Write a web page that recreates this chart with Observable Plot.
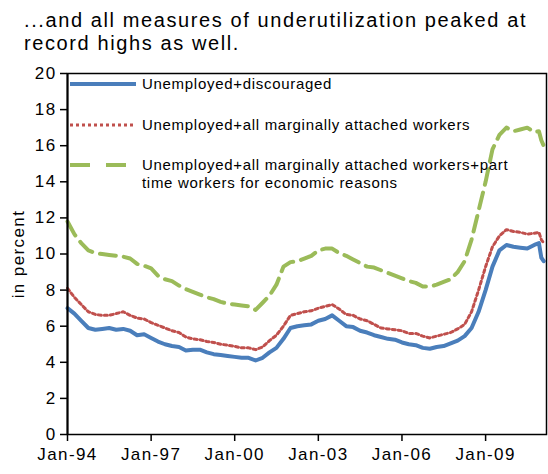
<!DOCTYPE html>
<html><head><meta charset="utf-8">
<script src="https://cdn.jsdelivr.net/npm/d3@7"></script>
<script src="https://cdn.jsdelivr.net/npm/@observablehq/plot@0.6"></script>
<style>
body{margin:0;background:#fff;font-family:"Liberation Sans",Arial,sans-serif;}
#wrap{position:relative;width:548px;height:474px;overflow:hidden;background:#fff}
#title{position:absolute;left:24px;top:9px;font-size:20px;line-height:23px;letter-spacing:1.6px;color:#000;white-space:nowrap}
#chart{position:absolute;left:0;top:60px}
.leg{position:absolute;font-size:15px;line-height:18px;letter-spacing:0.7px;color:#000;white-space:nowrap}
.legsw{position:absolute}
</style>
</head><body>
<div id="wrap">
  <div id="title">...and all measures of underutilization peaked at<br>record highs as well.</div>
  <div id="chart"></div>
</div>
<script>
const dates = [
"1994-01","1994-04","1994-07","1994-10","1995-01","1995-04","1995-07","1995-10",
"1996-01","1996-04","1996-07","1996-10","1997-01","1997-04","1997-07","1997-10",
"1998-01","1998-04","1998-07","1998-10","1999-01","1999-04","1999-07","1999-10",
"2000-01","2000-04","2000-07","2000-10","2001-01","2001-04","2001-07","2001-10",
"2002-01","2002-04","2002-07","2002-10","2003-01","2003-04","2003-07","2003-10",
"2004-01","2004-04","2004-07","2004-10","2005-01","2005-04","2005-07","2005-10",
"2006-01","2006-04","2006-07","2006-10","2007-01","2007-04","2007-07","2007-10",
"2008-01","2008-04","2008-07","2008-10","2009-01","2009-04","2009-07","2009-10",
"2010-01","2010-04","2010-07","2010-10","2010-12","2011-01","2011-02"];

const unemployedDiscouraged = [
7.0,6.7,6.3,5.9, 5.8,5.85,5.9,5.8, 5.85,5.75,5.5,5.55, 5.35,5.15,5.0,4.9,
4.85,4.65,4.7,4.7, 4.55,4.45,4.4,4.35, 4.3,4.25,4.25,4.1, 4.25,4.55,4.8,5.3,
5.9,6.0,6.05,6.1, 6.3,6.4,6.6,6.3, 6.0,5.95,5.75,5.65, 5.5,5.4,5.3,5.25,
5.1,5.0,4.95,4.8, 4.75,4.85,4.9,5.05, 5.2,5.45,5.9,6.8, 8.0,9.3,10.2,10.5,
10.4,10.35,10.3,10.5, 10.6,9.8,9.6];

const marginallyAttached = [
8.1,7.6,7.2,6.8, 6.65,6.6,6.6,6.7, 6.8,6.6,6.45,6.4, 6.2,6.05,5.9,5.75,
5.65,5.4,5.3,5.25, 5.15,5.1,5.0,4.95, 4.88,4.8,4.8,4.7, 4.85,5.2,5.5,6.0,
6.6,6.7,6.8,6.85, 7.0,7.1,7.2,6.95, 6.65,6.6,6.4,6.3, 6.1,5.9,5.85,5.8,
5.75,5.6,5.6,5.45, 5.35,5.45,5.55,5.65, 5.85,6.1,6.8,8.0, 9.3,10.4,11.0,11.35,
11.25,11.2,11.1,11.15, 11.2,10.8,10.6];

const partTimeEconomic = [
11.8,11.1,10.6,10.2, 10.05,10.0,9.95,9.9, 9.85,9.75,9.45,9.35, 9.2,8.8,8.6,8.5,
8.25,8.05,7.9,7.75, 7.6,7.5,7.35,7.25, 7.2,7.15,7.1,6.9, 7.3,7.7,8.3,9.3,
9.55,9.6,9.75,9.9, 10.2,10.3,10.3,10.05, 9.9,9.7,9.5,9.3, 9.25,9.1,8.95,8.8,
8.65,8.5,8.4,8.2, 8.2,8.3,8.45,8.6, 9.0,9.6,10.8,12.4, 14.0,15.8,16.6,17.0,
16.8,16.9,17.0,16.75, 16.8,16.3,16.0];

const seriesNames = [
  "Unemployed+discouraged",
  "Unemployed+all marginally attached workers",
  "Unemployed+all marginally attached workers+part time workers for economic reasons"
];
const xTickDates = ["1994-01-01","1997-01-01","2000-01-01","2003-01-01","2006-01-01","2009-01-01"];
const xTickLabels = ["Jan-94","Jan-97","Jan-00","Jan-03","Jan-06","Jan-09"];
const yTicks = [0,2,4,6,8,10,12,14,16,18,20];

const parse = d3.utcParse("%Y-%m");
const table = dates.map((d,i)=>({
  date: parse(d),
  a: unemployedDiscouraged[i],
  b: marginallyAttached[i],
  c: partTimeEconomic[i]
}));
const tickDates = xTickDates.map(s=>new Date(s+"T00:00:00Z"));

const styles = [
  {stroke:"#4A7EBB", strokeWidth:4, dash:null},
  {stroke:"#C0504D", strokeWidth:3, dash:"3,3"},
  {stroke:"#9BBB59", strokeWidth:4, dash:"16,8"}
];

const plot = Plot.plot({
  width:548, height:414,
  marginTop:13, marginBottom:40, marginLeft:67, marginRight:2,
  style:{fontFamily:"'Liberation Sans', Arial, sans-serif", fontSize:"17px", letterSpacing:"1.4px", color:"#000", background:"#fff", overflow:"visible"},
  x:{type:"utc", domain:[new Date("1994-01-01T00:00:00Z"), new Date("2011-03-10T00:00:00Z")]},
  y:{domain:[0,20]},
  marks:[
    Plot.axisX({ticks:tickDates, tickFormat:d=>xTickLabels[tickDates.findIndex(t=>+t===+d)], tickSize:7, tickPadding:6, label:null, stroke:"#000", strokeWidth:1.5}),
    Plot.axisY({ticks:yTicks, tickSize:7, tickPadding:4, label:"in percent", labelAnchor:"center", labelArrow:"none", labelOffset:56, stroke:"#000", strokeWidth:1.5}),
    Plot.lineY(table, {x:"date", y:"c", stroke:styles[2].stroke, strokeWidth:styles[2].strokeWidth, strokeDasharray:styles[2].dash}),
    Plot.lineY(table, {x:"date", y:"b", stroke:styles[1].stroke, strokeWidth:styles[1].strokeWidth, strokeDasharray:styles[1].dash}),
    Plot.lineY(table, {x:"date", y:"a", stroke:styles[0].stroke, strokeWidth:styles[0].strokeWidth}),
    Plot.frame({stroke:"#000", strokeWidth:1.5}),
    Plot.ruleX([new Date("1994-01-01T00:00:00Z")], {stroke:"#000", strokeWidth:2})
  ]
});
document.getElementById("chart").appendChild(plot);

// legend (inside plot, top-left)
const wrap = document.getElementById("wrap");
const legRows = [
  {y:84, lines:[seriesNames[0]]},
  {y:125, lines:[seriesNames[1]]},
  {y:165, lines:["Unemployed+all marginally attached workers+part","time workers for economic reasons"]}
];
legRows.forEach((r,i)=>{
  const st = styles[i];
  const sw = document.createElementNS("http://www.w3.org/2000/svg","svg");
  sw.setAttribute("width","66"); sw.setAttribute("height","10");
  sw.setAttribute("class","legsw");
  sw.style.left="70px"; sw.style.top=(r.y-5)+"px";
  const ln = document.createElementNS("http://www.w3.org/2000/svg","line");
  ln.setAttribute("x1","0"); ln.setAttribute("x2","66");
  ln.setAttribute("y1","5"); ln.setAttribute("y2","5");
  ln.setAttribute("stroke",st.stroke);
  ln.setAttribute("stroke-width", st.strokeWidth);
  if (i===2) ln.setAttribute("stroke-dasharray","20,16");
  else if (st.dash) ln.setAttribute("stroke-dasharray",st.dash);
  sw.appendChild(ln);
  wrap.appendChild(sw);
  const tx = document.createElement("div");
  tx.className="leg";
  tx.style.left="142px"; tx.style.top=(r.y-9)+"px";
  tx.innerHTML = r.lines.join("<br>");
  wrap.appendChild(tx);
});
</script>
</body></html>
